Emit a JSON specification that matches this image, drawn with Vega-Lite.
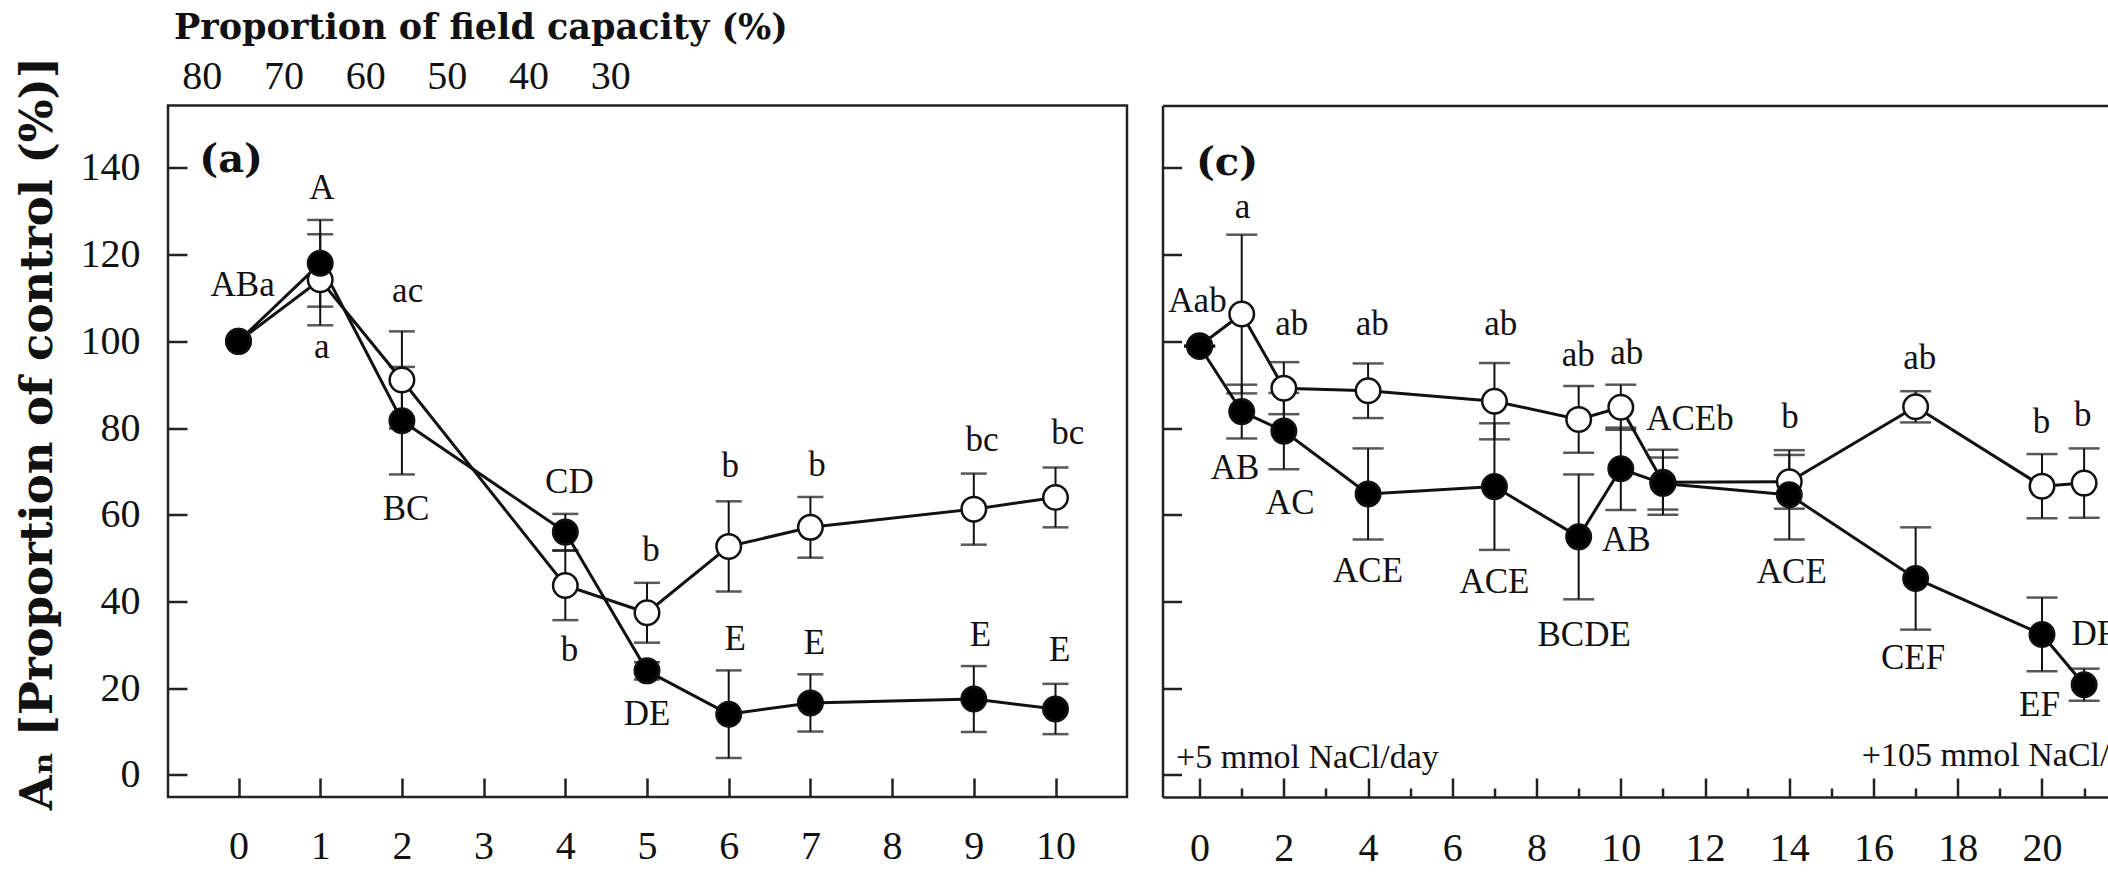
{
  "$schema": "https://vega.github.io/schema/vega-lite/v6.json",
  "usermeta": {"embedOptions": {"actions": false}},
  "autosize": {"type": "none"},
  "padding": {"left": 168, "top": 105.5, "right": 1940, "bottom": 776.5},
  "background": "white",
  "bounds": "flush",
  "spacing": 35.5,
  "config": {
    "view": {"stroke": "#222", "strokeWidth": 2.5},
    "axis": {"grid": false}
  },
  "datasets": {
    "a_pts": [
      {"x": 0, "v": 100, "se": 0, "s": "open"},
      {"x": 1, "v": 114.2, "se": 10.5, "s": "open"},
      {"x": 2, "v": 91.1, "se": 11.2, "s": "open"},
      {"x": 4, "v": 43.7, "se": 8.0, "s": "open"},
      {"x": 5, "v": 37.4, "se": 6.9, "s": "open"},
      {"x": 6, "v": 52.7, "se": 10.4, "s": "open"},
      {"x": 7, "v": 57.1, "se": 7.0, "s": "open"},
      {"x": 9, "v": 61.3, "se": 8.2, "s": "open"},
      {"x": 10, "v": 64.0, "se": 6.9, "s": "open"},
      {"x": 0, "v": 100, "se": 0, "s": "filled"},
      {"x": 1, "v": 118.0, "se": 10.0, "s": "filled"},
      {"x": 2, "v": 81.7, "se": 12.4, "s": "filled"},
      {"x": 4, "v": 56.0, "se": 4.2, "s": "filled"},
      {"x": 5, "v": 24.0, "se": 2.0, "s": "filled"},
      {"x": 6, "v": 14.0, "se": 10.1, "s": "filled"},
      {"x": 7, "v": 16.6, "se": 6.6, "s": "filled"},
      {"x": 9, "v": 17.5, "se": 7.6, "s": "filled"},
      {"x": 10, "v": 15.2, "se": 5.8, "s": "filled"}
    ],
    "a_lab": [
      {"x": 0.05, "v": 113.0, "t": "ABa"},
      {"x": 1.02, "v": 135.3, "t": "A"},
      {"x": 1.02, "v": 98.8, "t": "a"},
      {"x": 2.07, "v": 111.5, "t": "ac"},
      {"x": 2.05, "v": 61.3, "t": "BC"},
      {"x": 4.05, "v": 67.6, "t": "CD"},
      {"x": 4.05, "v": 28.8, "t": "b"},
      {"x": 5.05, "v": 51.9, "t": "b"},
      {"x": 5.0, "v": 14.0, "t": "DE"},
      {"x": 6.02, "v": 71.3, "t": "b"},
      {"x": 6.08, "v": 31.3, "t": "E"},
      {"x": 7.08, "v": 71.5, "t": "b"},
      {"x": 7.05, "v": 30.4, "t": "E"},
      {"x": 9.1, "v": 77.3, "t": "bc"},
      {"x": 9.08, "v": 32.3, "t": "E"},
      {"x": 10.15, "v": 78.8, "t": "bc"},
      {"x": 10.05, "v": 28.8, "t": "E"}
    ],
    "a_tag": [{"x": -0.09, "v": 141.9, "t": "(a)"}],
    "c_pts": [
      {"x": 0, "v": 99.0, "se": 0, "s": "open"},
      {"x": 1, "v": 106.3, "se": 18.3, "s": "open"},
      {"x": 2, "v": 89.2, "se": 6.0, "s": "open"},
      {"x": 4, "v": 88.6, "se": 6.3, "s": "open"},
      {"x": 7, "v": 86.2, "se": 8.8, "s": "open"},
      {"x": 9, "v": 82.0, "se": 7.7, "s": "open"},
      {"x": 10, "v": 84.8, "se": 5.2, "s": "open"},
      {"x": 11, "v": 67.5, "se": 7.5, "s": "open"},
      {"x": 14, "v": 67.6, "se": 6.2, "s": "open"},
      {"x": 17, "v": 84.9, "se": 3.6, "s": "open"},
      {"x": 20, "v": 66.6, "se": 7.4, "s": "open"},
      {"x": 21, "v": 67.3, "se": 8.0, "s": "open"},
      {"x": 0, "v": 98.8, "se": 0, "s": "filled"},
      {"x": 1, "v": 83.8, "se": 6.2, "s": "filled"},
      {"x": 2, "v": 79.3, "se": 8.8, "s": "filled"},
      {"x": 4, "v": 64.8, "se": 10.5, "s": "filled"},
      {"x": 7, "v": 66.5, "se": 14.6, "s": "filled"},
      {"x": 9, "v": 54.9, "se": 14.4, "s": "filled"},
      {"x": 10, "v": 70.6, "se": 9.5, "s": "filled"},
      {"x": 11, "v": 67.2, "se": 6.0, "s": "filled"},
      {"x": 14, "v": 64.6, "se": 10.3, "s": "filled"},
      {"x": 17, "v": 45.3, "se": 11.8, "s": "filled"},
      {"x": 20, "v": 32.4, "se": 8.5, "s": "filled"},
      {"x": 21, "v": 20.8, "se": 3.7, "s": "filled"}
    ],
    "c_lab": [
      {"x": -0.05, "v": 109.2, "t": "Aab"},
      {"x": 1.02, "v": 131.1, "t": "a"},
      {"x": 0.84, "v": 70.7, "t": "AB"},
      {"x": 2.19, "v": 103.9, "t": "ab"},
      {"x": 2.15, "v": 62.6, "t": "AC"},
      {"x": 4.1, "v": 103.9, "t": "ab"},
      {"x": 4.0, "v": 47.1, "t": "ACE"},
      {"x": 7.15, "v": 103.9, "t": "ab"},
      {"x": 7.0, "v": 44.6, "t": "ACE"},
      {"x": 8.99, "v": 96.9, "t": "ab"},
      {"x": 9.13, "v": 32.3, "t": "BCDE"},
      {"x": 10.14, "v": 97.3, "t": "ab"},
      {"x": 10.13, "v": 54.2, "t": "AB"},
      {"x": 11.64, "v": 82.2, "t": "ACEb"},
      {"x": 14.02, "v": 82.6, "t": "b"},
      {"x": 14.06, "v": 46.9, "t": "ACE"},
      {"x": 17.1, "v": 96.1, "t": "ab"},
      {"x": 16.94, "v": 26.9, "t": "CEF"},
      {"x": 19.99, "v": 81.5, "t": "b"},
      {"x": 19.94, "v": 16.1, "t": "EF"},
      {"x": 20.97, "v": 83.0, "t": "b"},
      {"x": 21.23, "v": 32.4, "t": "DF"}
    ],
    "c_note": [
      {"x": -0.56, "v": 3.9, "t": "+5 mmol NaCl/day"},
      {"x": 15.72, "v": 4.4, "t": "+105 mmol NaCl/day"}
    ],
    "c_tag": [{"x": 0.65, "v": 141.2, "t": "(c)"}]
  },
  "hconcat": [
    {
      "width": 959,
      "height": 691.5,
      "resolve": {"axis": {"x": "independent"}},
      "layer": [
        {
          "encoding": {
            "x": {
              "field": "x", "type": "quantitative",
              "scale": {"domain": [-0.863, 10.875], "nice": false, "zero": false},
              "axis": {
                "orient": "bottom",
                "values": [0, 1, 2, 3, 4, 5, 6, 7, 8, 9, 10],
                "format": "d",
                "domain": false,
                "ticks": true, "tickSize": -19, "tickWidth": 2.5, "tickColor": "#222",
                "labelFont": "Liberation Serif", "labelFontSize": 40, "labelColor": "#111",
                "labelBaseline": "alphabetic", "labelPadding": 80,
                "labelFlush": false, "labelOverlap": false,
                "title": null
              }
            },
            "y": {
              "field": "v", "type": "quantitative",
              "scale": {"domain": [-5.1, 154.4], "nice": false, "zero": false},
              "axis": {
                "orient": "left",
                "values": [0, 20, 40, 60, 80, 100, 120, 140],
                "domain": false,
                "ticks": true, "tickSize": -19, "tickWidth": 2.5, "tickColor": "#222",
                "labelFont": "Liberation Serif", "labelFontSize": 40, "labelColor": "#111",
                "labelPadding": 47, "labelOverlap": false, "labelFlush": false,
                "title": "Aₙ [Proportion of control (%)]",
                "titleFont": "DejaVu Serif", "titleFontSize": 45, "titleFontWeight": "bold",
                "titleColor": "#111",
                "titleX": -131, "titleY": 327.5, "titleAngle": 270,
                "titleAlign": "center", "titleBaseline": "middle"
              }
            }
          },
          "layer": [
            {
              "data": {"name": "a_pts"},
              "mark": {
                "type": "errorbar", "color": "#111",
                "rule": {"strokeWidth": 2},
                "ticks": {"size": 26, "thickness": 2.5, "color": "#111"}
              },
              "encoding": {"yError": {"field": "se"}, "detail": {"field": "s"}}
            },
            {
              "data": {"name": "a_pts"},
              "mark": {"type": "line", "color": "#111", "strokeWidth": 3},
              "encoding": {"detail": {"field": "s"}}
            },
            {
              "data": {"name": "a_pts"},
              "mark": {"type": "point", "shape": "circle", "filled": true, "size": 600, "stroke": "#111", "strokeWidth": 2.5, "opacity": 1},
              "encoding": {
                "fill": {"field": "s", "type": "nominal", "scale": {"domain": ["open", "filled"], "range": ["white", "black"]}, "legend": null}
              }
            },
            {
              "data": {"name": "a_lab"},
              "mark": {"type": "text", "font": "Liberation Serif", "fontSize": 35, "color": "#111", "align": "center", "baseline": "middle"},
              "encoding": {"text": {"field": "t"}}
            },
            {
              "data": {"name": "a_tag"},
              "mark": {"type": "text", "font": "DejaVu Serif", "fontSize": 40, "fontWeight": "bold", "color": "#111", "align": "center", "baseline": "middle"},
              "encoding": {"text": {"field": "t"}}
            }
          ]
        },
        {
          "data": {"name": "a_tag"},
          "mark": {"type": "text", "opacity": 0},
          "encoding": {
            "x": {
              "field": "x", "type": "quantitative",
              "scale": {"domain": [-0.863, 10.875], "nice": false, "zero": false},
              "axis": {
                "orient": "top",
                "values": [-0.45, 0.55, 1.55, 2.55, 3.55, 4.55],
                "labelExpr": "['80','70','60','50','40','30'][round(datum.value + 0.45)]",
                "domain": false, "ticks": false,
                "labelFont": "Liberation Serif", "labelFontSize": 40, "labelColor": "#111",
                "labelBaseline": "alphabetic", "labelPadding": 17,
                "labelFlush": false, "labelOverlap": false,
                "title": "Proportion of field capacity (%)",
                "titleFont": "DejaVu Serif", "titleFontSize": 35, "titleFontWeight": "bold",
                "titleColor": "#111",
                "titleX": 5.5, "titleY": -67.5, "titleAlign": "left", "titleBaseline": "alphabetic", "titleAngle": 0
              }
            },
            "y": {
              "field": "v", "type": "quantitative",
              "scale": {"domain": [-5.1, 154.4], "nice": false, "zero": false},
              "axis": {
                "orient": "left",
                "values": [0, 20, 40, 60, 80, 100, 120, 140],
                "domain": false,
                "ticks": true, "tickSize": -19, "tickWidth": 2.5, "tickColor": "#222",
                "labelFont": "Liberation Serif", "labelFontSize": 40, "labelColor": "#111",
                "labelPadding": 47, "labelOverlap": false, "labelFlush": false,
                "title": "Aₙ [Proportion of control (%)]",
                "titleFont": "DejaVu Serif", "titleFontSize": 45, "titleFontWeight": "bold",
                "titleColor": "#111",
                "titleX": -131, "titleY": 327.5, "titleAngle": 270,
                "titleAlign": "center", "titleBaseline": "middle"
              }
            },
            "text": {"field": "t"}
          }
        }
      ]
    },
    {
      "width": 945.5,
      "height": 691.5,
      "view": {"stroke": null},
      "resolve": {"axis": {"x": "independent"}},
      "layer": [
        {
          "encoding": {
            "x": {
              "field": "x", "type": "quantitative",
              "scale": {"domain": [-0.881, 21.567], "nice": false, "zero": false},
              "axis": {
                "orient": "bottom",
                "values": [0, 1, 2, 3, 4, 5, 6, 7, 8, 9, 10, 11, 12, 13, 14, 15, 16, 17, 18, 19, 20, 21],
                "format": "d",
                "labelExpr": "datum.value % 2 === 0 ? datum.label : ''",
                "domain": true, "domainWidth": 2.5, "domainColor": "#222",
                "ticks": true,
                "tickSize": {"condition": {"test": "datum.value % 2 === 0", "value": -19}, "value": -9},
                "tickWidth": 2.5, "tickColor": "#222",
                "labelFont": "Liberation Serif", "labelFontSize": 40, "labelColor": "#111",
                "labelBaseline": "alphabetic", "labelPadding": 82,
                "labelFlush": false, "labelOverlap": false,
                "title": null
              }
            },
            "y": {
              "field": "v", "type": "quantitative",
              "scale": {"domain": [-5.1, 154.4], "nice": false, "zero": false},
              "axis": {
                "orient": "left",
                "values": [0, 20, 40, 60, 80, 100, 120, 140],
                "domain": true, "domainWidth": 2.5, "domainColor": "#222",
                "ticks": true, "tickSize": -19, "tickWidth": 2.5, "tickColor": "#222",
                "labels": false,
                "title": null
              }
            }
          },
          "layer": [
            {
              "data": {"name": "c_pts"},
              "mark": {
                "type": "errorbar", "color": "#111",
                "rule": {"strokeWidth": 2},
                "ticks": {"size": 31, "thickness": 2.5, "color": "#111"}
              },
              "encoding": {"yError": {"field": "se"}, "detail": {"field": "s"}}
            },
            {
              "data": {"name": "c_pts"},
              "mark": {"type": "line", "color": "#111", "strokeWidth": 3},
              "encoding": {"detail": {"field": "s"}}
            },
            {
              "data": {"name": "c_pts"},
              "mark": {"type": "point", "shape": "circle", "filled": true, "size": 600, "stroke": "#111", "strokeWidth": 2.5, "opacity": 1},
              "encoding": {
                "fill": {"field": "s", "type": "nominal", "scale": {"domain": ["open", "filled"], "range": ["white", "black"]}, "legend": null}
              }
            },
            {
              "data": {"name": "c_lab"},
              "mark": {"type": "text", "font": "Liberation Serif", "fontSize": 35, "color": "#111", "align": "center", "baseline": "middle", "clip": true},
              "encoding": {"text": {"field": "t"}}
            },
            {
              "data": {"name": "c_note"},
              "mark": {"type": "text", "font": "Liberation Serif", "fontSize": 34, "color": "#111", "align": "left", "baseline": "middle", "clip": true},
              "encoding": {"text": {"field": "t"}}
            },
            {
              "data": {"name": "c_tag"},
              "mark": {"type": "text", "font": "DejaVu Serif", "fontSize": 40, "fontWeight": "bold", "color": "#111", "align": "center", "baseline": "middle"},
              "encoding": {"text": {"field": "t"}}
            }
          ]
        },
        {
          "data": {"name": "c_tag"},
          "mark": {"type": "text", "opacity": 0},
          "encoding": {
            "x": {
              "field": "x", "type": "quantitative",
              "scale": {"domain": [-0.881, 21.567], "nice": false, "zero": false},
              "axis": {
                "orient": "top",
                "domain": true, "domainWidth": 2.5, "domainColor": "#222",
                "ticks": false, "labels": false, "title": null
              }
            },
            "y": {
              "field": "v", "type": "quantitative",
              "scale": {"domain": [-5.1, 154.4], "nice": false, "zero": false},
              "axis": {
                "orient": "left",
                "values": [0, 20, 40, 60, 80, 100, 120, 140],
                "domain": true, "domainWidth": 2.5, "domainColor": "#222",
                "ticks": true, "tickSize": -19, "tickWidth": 2.5, "tickColor": "#222",
                "labels": false,
                "title": null
              }
            },
            "text": {"field": "t"}
          }
        }
      ]
    }
  ]
}
